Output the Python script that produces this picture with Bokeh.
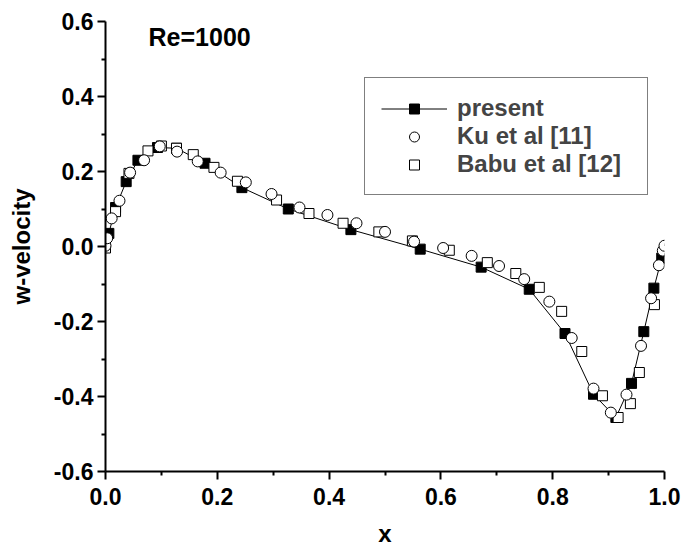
from bokeh.plotting import figure
from bokeh.models import Range1d, FixedTicker, PrintfTickFormatter, Label, Legend
from bokeh.embed import file_html
from bokeh.resources import INLINE

# present (filled squares with line)
present_x = [0.006, 0.018, 0.037, 0.058, 0.093, 0.127, 0.178, 0.244, 0.327, 0.439, 0.563, 0.672,
             0.758, 0.822, 0.873, 0.913, 0.941, 0.963, 0.981, 0.995]
present_y = [0.035, 0.104, 0.173, 0.230, 0.264, 0.262, 0.222, 0.157, 0.100, 0.045, -0.007, -0.055,
             -0.114, -0.232, -0.394, -0.456, -0.365, -0.227, -0.111, -0.031]

# Ku et al [11] (open circles)
ku_x = [0.000, 0.003, 0.011, 0.025, 0.044, 0.069, 0.097, 0.128, 0.165, 0.206, 0.251, 0.297,
        0.347, 0.397, 0.449, 0.500, 0.552, 0.604, 0.655, 0.704, 0.749, 0.794, 0.834, 0.873,
        0.904, 0.932, 0.958, 0.976, 0.990, 0.997, 1.000]
ku_y = [0.002, 0.022, 0.075, 0.122, 0.197, 0.230, 0.267, 0.253, 0.227, 0.197, 0.171, 0.140,
        0.104, 0.084, 0.062, 0.039, 0.013, -0.004, -0.025, -0.052, -0.087, -0.147, -0.244, -0.379,
        -0.443, -0.395, -0.265, -0.138, -0.050, -0.011, 0.002]

# Babu et al [12] (open squares)
babu_x = [0.000, 0.018, 0.042, 0.076, 0.100, 0.127, 0.157, 0.194, 0.236, 0.306, 0.364, 0.425,
          0.489, 0.549, 0.615, 0.683, 0.734, 0.776, 0.816, 0.852, 0.889, 0.917, 0.939, 0.955,
          0.982, 1.003]
babu_y = [-0.004, 0.093, 0.195, 0.255, 0.268, 0.262, 0.245, 0.211, 0.174, 0.124, 0.088, 0.062,
          0.039, 0.015, -0.010, -0.043, -0.072, -0.109, -0.173, -0.280, -0.398, -0.456, -0.419, -0.336,
          -0.155, -0.007]

x_ticks = [0.0, 0.2, 0.4, 0.6, 0.8, 1.0]
x_minor = [0.1, 0.3, 0.5, 0.7, 0.9]
y_ticks = [-0.6, -0.4, -0.2, 0.0, 0.2, 0.4, 0.6]
y_minor = [-0.5, -0.3, -0.1, 0.1, 0.3, 0.5]

FONT = "Liberation Sans"

p = figure(frame_width=559, frame_height=450, output_backend="svg", toolbar_location=None,
           x_range=Range1d(0, 1), y_range=Range1d(-0.6, 0.6),
           min_border_left=105, min_border_right=18, min_border_top=21, min_border_bottom=83)
p.outline_line_color = None
p.xgrid.visible = False
p.ygrid.visible = False
p.background_fill_color = "white"
p.border_fill_color = "white"

for ax, lab, tk, mn in ((p.xaxis[0], "x", x_ticks, x_minor), (p.yaxis[0], "w-velocity", y_ticks, y_minor)):
    ax.ticker = FixedTicker(ticks=tk, minor_ticks=mn)
    ax.formatter = PrintfTickFormatter(format="%.1f")
    ax.axis_label = lab
    ax.axis_label_text_font = FONT
    ax.axis_label_text_font_style = "bold"
    ax.axis_label_text_font_size = "24px"
    ax.axis_label_text_color = "black"
    ax.major_label_text_font = FONT
    ax.major_label_text_font_style = "bold"
    ax.major_label_text_font_size = "23px"
    ax.major_label_text_color = "black"
    ax.axis_line_width = 2
    ax.axis_line_color = "black"
    ax.major_tick_line_width = 2
    ax.minor_tick_line_width = 2
    ax.major_tick_line_color = "black"
    ax.minor_tick_line_color = "black"
    ax.major_tick_in = 0
    ax.major_tick_out = 8
    ax.minor_tick_in = 0
    ax.minor_tick_out = 4

p.yaxis[0].major_label_standoff = 4
p.yaxis[0].axis_label_standoff = 16
p.xaxis[0].major_label_standoff = 8
p.xaxis[0].axis_label_standoff = 12

l1 = p.line(present_x, present_y, line_color="black", line_width=1)
s1 = p.scatter(present_x, present_y, marker="square", size=10, fill_color="black", line_color="black")
s3 = p.scatter(babu_x, babu_y, marker="square", size=10, fill_color="white", line_color="black", line_width=1)
s2 = p.scatter(ku_x, ku_y, marker="circle", size=11, fill_color="white", line_color="black", line_width=1)

legend = Legend(items=[("present", [l1, s1]), ("Ku et al [11]", [s2]), ("Babu et al [12]", [s3])],
                location=(259, 276))
legend.label_text_font = FONT
legend.label_text_font_style = "bold"
legend.label_text_font_size = "24px"
legend.glyph_width = 66
legend.glyph_height = 25
legend.label_height = 25
legend.label_width = 174
legend.spacing = 0
legend.padding = 16
legend.margin = 0
legend.label_standoff = 10
legend.border_line_color = "black"
legend.border_line_width = 1.5
legend.background_fill_color = "white"
legend.background_fill_alpha = 1
p.add_layout(legend, "center")

p.add_layout(Label(x=0.077, y=0.559, text="Re=1000", text_font=FONT, text_font_style="bold",
                   text_font_size="25px", text_color="black", text_baseline="alphabetic"))

open("out.html", "w").write(file_html(p, INLINE))
